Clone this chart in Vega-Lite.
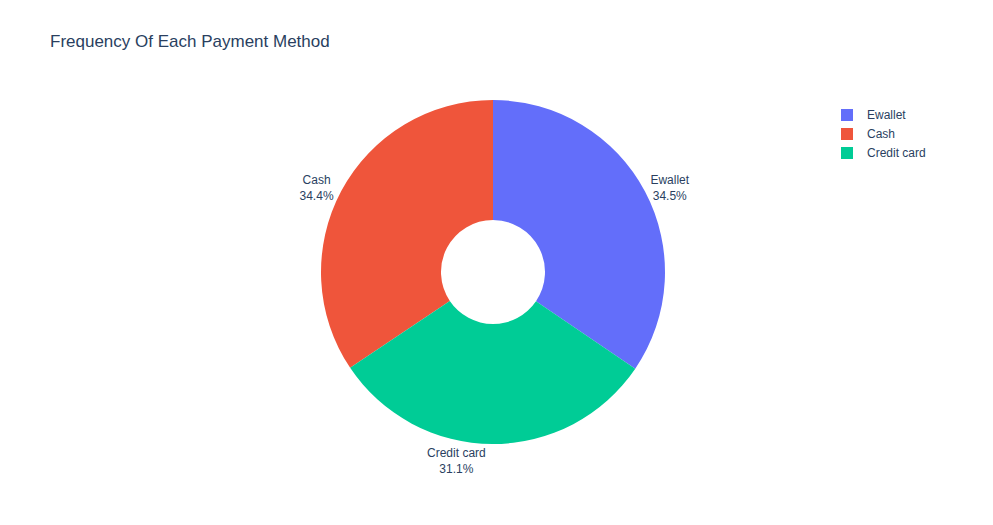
{
  "$schema": "https://vega.github.io/schema/vega-lite/v6.json",
  "width": 986,
  "height": 506,
  "autosize": {"type": "none"},
  "padding": {"left": 0, "top": 19, "right": 0, "bottom": 0},
  "background": "white",
  "title": {
    "text": "Frequency Of Each Payment Method",
    "anchor": "start",
    "frame": "group",
    "offset": 0,
    "dx": 50,
    "dy": 32,
    "fontSize": 17,
    "font": "Liberation Sans",
    "fontWeight": "normal",
    "color": "#2a3f5f"
  },
  "config": {
    "view": {"stroke": null},
    "font": "Liberation Sans"
  },
  "data": {
    "values": [
      {"method": "Ewallet", "count": 345, "label": "Ewallet\n34.5%"},
      {"method": "Cash", "count": 344, "label": "Cash\n34.4%"},
      {"method": "Credit card", "count": 311, "label": "Credit card\n31.1%"}
    ]
  },
  "encoding": {
    "theta": {"field": "count", "type": "quantitative", "stack": true},
    "order": {"field": "method", "sort": "descending"}
  },
  "layer": [
    {
      "mark": {"type": "arc", "outerRadius": 172, "innerRadius": 52, "strokeWidth": 0},
      "encoding": {
        "color": {
          "field": "method",
          "type": "nominal",
          "scale": {"domain": ["Ewallet", "Cash", "Credit card"], "range": ["#636efa", "#EF553B", "#00cc96"]},
          "legend": {
            "title": null,
            "orient": "none",
            "legendX": 841,
            "legendY": 90,
            "symbolType": "square",
            "symbolSize": 144,
            "symbolStrokeWidth": 0,
            "labelFontSize": 12,
            "labelColor": "#2a3f5f",
            "labelFont": "Liberation Sans",
            "labelOffset": 14,
            "rowPadding": 7
          }
        }
      }
    },
    {
      "mark": {"type": "text", "radius": 200, "lineBreak": "\n", "fontSize": 12, "color": "#2a3f5f", "font": "Liberation Sans", "lineHeight": 16, "dy": 2},
      "encoding": {
        "text": {"condition": {"test": "datum.method !== 'Credit card'", "field": "label"}, "value": ""}
      }
    },
    {
      "mark": {"type": "text", "radius": 197, "lineBreak": "\n", "fontSize": 12, "color": "#2a3f5f", "font": "Liberation Sans", "lineHeight": 16, "dx": -36, "dy": -16},
      "encoding": {
        "text": {"condition": {"test": "datum.method === 'Credit card'", "field": "label"}, "value": ""}
      }
    }
  ]
}
